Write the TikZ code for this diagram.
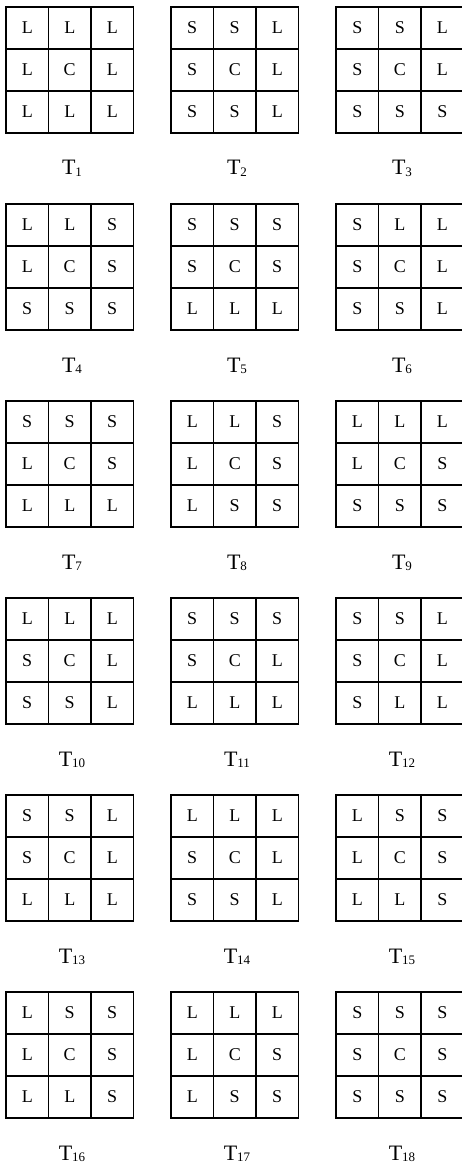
\documentclass[tikz,border=0pt]{standalone}
\usepackage{fontspec}
\setmainfont{Liberation Serif}
\usetikzlibrary{positioning}
\tikzset{
myCell/.style={
	rectangle, draw, line width=1.5pt,
	minimum width=42.5pt, minimum height=42pt,
	inner sep=0pt, text=black,
	font=\fontsize{18}{18}\selectfont
}
, myName/.style={
	anchor=base, inner sep=0pt,
	font=\fontsize{22}{22}\selectfont
}
}
\newcommand{\tname}[1]{T\raisebox{-1.5pt}{\fontsize{13}{13}\selectfont #1}}

\begin{document}
\begin{tikzpicture}[x=1pt,y=-1pt]
	\useasboundingbox (0,0) rectangle (461,1166);
	% grids
	\foreach \k/\cells [count=\i from 0] in {
		1/{L,L,L,L,C,L,L,L,L}, 2/{S,S,L,S,C,L,S,S,L}, 3/{S,S,L,S,C,L,S,S,S},
		4/{L,L,S,L,C,S,S,S,S}, 5/{S,S,S,S,C,S,L,L,L}, 6/{S,L,L,S,C,L,S,S,L},
		7/{S,S,S,L,C,S,L,L,L}, 8/{L,L,S,L,C,S,L,S,S}, 9/{L,L,L,L,C,S,S,S,S},
		10/{L,L,L,S,C,L,S,S,L}, 11/{S,S,S,S,C,L,L,L,L}, 12/{S,S,L,S,C,L,S,L,L},
		13/{S,S,L,S,C,L,L,L,L}, 14/{L,L,L,S,C,L,S,S,L}, 15/{L,S,S,L,C,S,L,L,S},
		16/{L,S,S,L,C,S,L,L,S}, 17/{L,L,L,L,C,S,L,S,S}, 18/{S,S,S,S,C,S,S,S,S}} {
		\pgfmathsetmacro\gx{6+165*mod(\i,3)}
		\pgfmathsetmacro\gy{7+197*div(\i,3)}
		\foreach \t [count=\j from 0] in \cells {
			\node[myCell] (T\k-\j) at ({\gx+42.5*(mod(\j,3)+0.5)},{\gy+42*(div(\j,3)+0.5)}) {\t};
		}
		% label
		\node[myName] (T\k) at ({\gx+66},{\gy+168}) {\tname{\k}};
	}
\end{tikzpicture}
\end{document}
